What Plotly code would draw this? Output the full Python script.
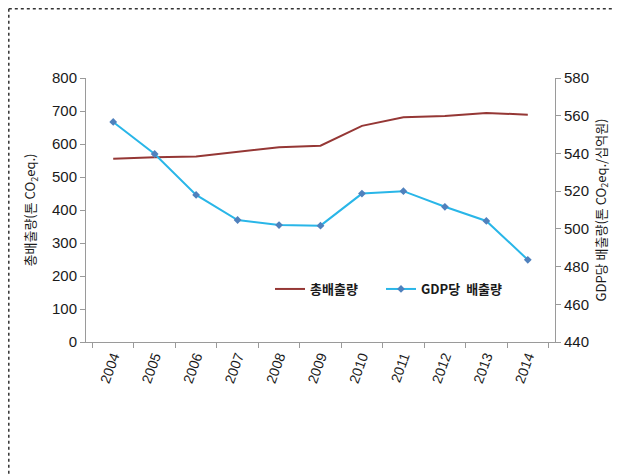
import plotly.graph_objects as go

years = ["2004", "2005", "2006", "2007", "2008", "2009", "2010", "2011", "2012", "2013", "2014"]
total_emission = [555, 560, 562, 577, 590, 595, 655, 681, 685, 694, 689]
gdp_emission = [556.7, 539.7, 518.0, 504.7, 502.0, 501.7, 518.7, 520.0, 511.7, 504.2, 483.6]

RED = "#953735"
BLUE = "#29b6e8"
MARK = "#4f81bd"
AXIS = "#9a9a9a"
INK = "#1a1a1a"
FONT = '"Noto Sans CJK KR", "Liberation Sans", sans-serif'
NUM = '"Liberation Sans", sans-serif'

# the page body adds an 8px offset, so the figure is sized/placed in page px - 8
OFF = 8
W, H = 620 - OFF, 476 - OFF
L, T = 86 - OFF, 78 - OFF
R, B = W - (555 - OFF), H - (342 - OFF)
pw, ph = W - L - R, H - T - B


def px(x):
    return (x - OFF - L) / pw


def py(y):
    return (H - B - (y - OFF)) / ph


fig = go.Figure()
fig.add_scatter(x=years, y=total_emission, name="총배출량", mode="lines",
                line=dict(color=RED, width=2), yaxis="y", legend="legend")
fig.add_scatter(x=years, y=gdp_emission, name="GDP당  배출량", mode="lines+markers",
                line=dict(color=BLUE, width=2),
                marker=dict(symbol="diamond", size=6, color=MARK), yaxis="y2",
                legend="legend2")

legend_style = dict(xanchor="left", yanchor="middle", bgcolor="rgba(0,0,0,0)",
                    font=dict(size=13, color=INK, weight="bold"), itemwidth=30)

fig.update_layout(
    template="none",
    width=W, height=H,
    paper_bgcolor="white", plot_bgcolor="white",
    font=dict(family=FONT, color=INK, size=13),
    margin=dict(l=L, r=R, t=T, b=B, autoexpand=False),
    showlegend=True,
    legend=dict(x=px(270), y=py(289), **legend_style),
    legend2=dict(x=px(381), y=py(289), **legend_style),
    xaxis=dict(type="category", showgrid=False, zeroline=False, showline=True,
               linecolor=AXIS, linewidth=1, ticks="outside", tickson="boundaries",
               ticklen=5, tickcolor=AXIS, tickangle=-70,
               tickfont=dict(size=14, color=INK, family=NUM)),
    yaxis=dict(range=[0, 800], dtick=100, showgrid=False, zeroline=False, showline=True,
               linecolor=AXIS, ticks="outside", ticklen=5, tickcolor=AXIS,
               tickfont=dict(size=15, color=INK, family=NUM),
               title=dict(text="총배출량(톤 CO<sub>2</sub>eq.)", standoff=13,
                          font=dict(size=13, color=INK))),
    yaxis2=dict(range=[440, 580], dtick=20, overlaying="y", side="right", showgrid=False,
                zeroline=False, showline=True, linecolor=AXIS, ticks="outside", ticklen=5,
                tickcolor=AXIS, tickfont=dict(size=15, color=INK, family=NUM),
                title=dict(text="GDP당 배출량(톤 CO<sub>2</sub>eq./십억원)", standoff=8,
                           font=dict(size=13, color=INK))),
)

# dotted frame (left and top edges, as in the original screenshot)
dot = dict(color="#333333", width=1.5, dash="dot")
x_edge, y_edge = (0.8 - L) / pw, (H - B - 0.8) / ph
fig.add_shape(type="line", xref="paper", yref="paper", x0=x_edge, x1=(W - L) / pw,
              y0=y_edge, y1=y_edge, line=dot)
fig.add_shape(type="line", xref="paper", yref="paper", x0=x_edge, x1=x_edge,
              y0=y_edge, y1=-B / ph, line=dot)

fig.write_html("out.html")
